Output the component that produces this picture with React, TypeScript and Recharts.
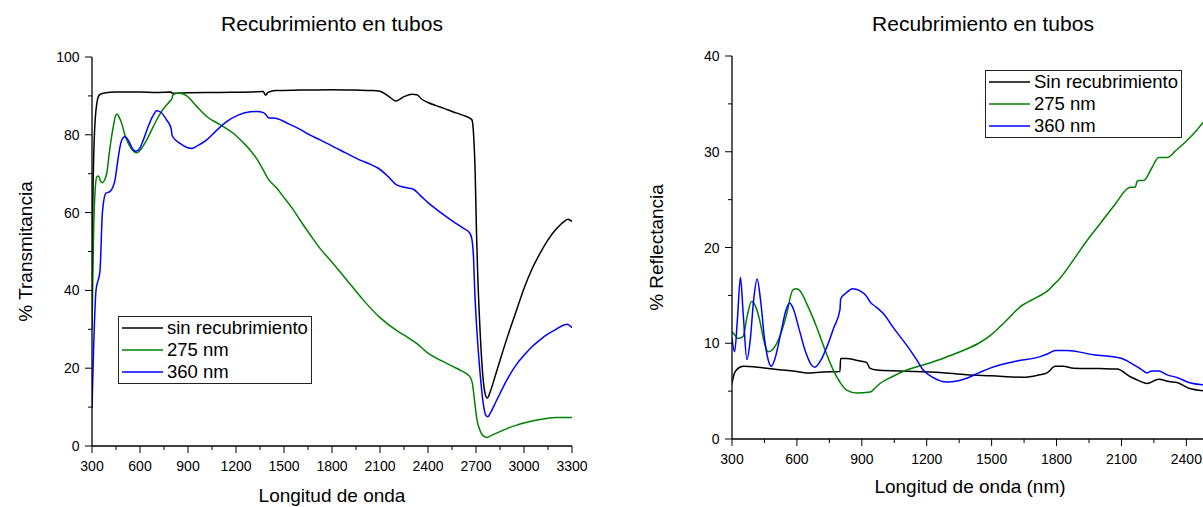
import React from "react";
import { LineChart, Line, XAxis, YAxis, Legend, Label } from "recharts";

// ---------- Transmittance (left panel) ----------
const transNmUncoated = [300, 305, 315, 330, 345, 370, 450, 600, 700, 795, 800, 900, 1100, 1300, 1370, 1385, 1400, 1450, 1600, 1800, 1950, 2050, 2100, 2150, 2200, 2250, 2300, 2330, 2360, 2400, 2450, 2500, 2550, 2620, 2660, 2675, 2685, 2695, 2703, 2710, 2725, 2745, 2760, 2771, 2785, 2820, 2850, 2900, 2950, 3000, 3050, 3100, 3150, 3200, 3250, 3275, 3290, 3300];
const transUncoated = [44, 62, 80, 88, 90.2, 90.7, 91.0, 91.0, 90.9, 91.0, 90.7, 90.8, 90.9, 91.0, 91.1, 90.2, 90.9, 91.4, 91.5, 91.6, 91.5, 91.4, 91.2, 90.0, 88.7, 89.8, 90.4, 90.3, 89.2, 88.3, 87.5, 86.8, 86.0, 85.0, 84.3, 83.8, 80, 70, 55, 45, 30, 17, 13, 12.3, 13.5, 18, 22, 28.5, 34.5, 40.5, 45.5, 49.5, 53, 55.7, 57.7, 58.3, 58.0, 57.7];

const transNm275 = [300, 310, 320, 330, 340, 355, 367, 380, 392, 410, 433, 448, 458, 470, 485, 505, 527, 555, 579, 610, 642, 670, 704, 735, 767, 795, 800, 805, 829, 860, 892, 950, 1017, 1100, 1183, 1240, 1288, 1330, 1371, 1402, 1450, 1496, 1550, 1600, 1660, 1725, 1788, 1892, 1996, 2100, 2214, 2270, 2329, 2402, 2480, 2558, 2610, 2640, 2665, 2678, 2690, 2705, 2725, 2745, 2767, 2800, 2850, 2900, 2950, 3000, 3100, 3200, 3300];
const trans275 = [30, 55, 66, 69.2, 69.4, 68.0, 67.7, 68.5, 70.1, 76, 82.1, 85.0, 85.3, 84.5, 83.0, 80, 77.8, 76, 75.4, 76.5, 78.7, 81, 83.8, 86, 87.7, 89.0, 89.3, 90.2, 90.7, 90.6, 90.0, 87.5, 84.7, 82.6, 80.4, 78.2, 76.1, 73.8, 70.9, 68.6, 66.5, 64.1, 61.2, 58.1, 54.5, 50.8, 47.8, 42.7, 37.5, 33.0, 29.4, 28.0, 26.4, 23.8, 22.0, 20.4, 19.3, 18.6, 17.6, 16, 12, 7, 4, 2.6, 2.2, 2.8, 3.7, 4.6, 5.3, 5.9, 6.8, 7.3, 7.3];

const transNm360 = [300, 310, 325, 350, 365, 387, 412, 430, 444, 460, 475, 490, 506, 520, 537, 555, 575, 598, 621, 650, 680, 704, 730, 767, 795, 800, 805, 850, 890, 923, 960, 1017, 1080, 1142, 1210, 1288, 1330, 1371, 1390, 1402, 1454, 1530, 1600, 1660, 1725, 1850, 1975, 2040, 2089, 2150, 2204, 2250, 2308, 2350, 2402, 2480, 2558, 2620, 2662, 2675, 2685, 2692, 2705, 2725, 2745, 2760, 2773, 2790, 2820, 2850, 2900, 2950, 3000, 3050, 3100, 3150, 3200, 3250, 3270, 3290, 3300];
const trans360 = [9.8, 25, 40, 45, 60, 65.0, 65.4, 66.5, 68.4, 73, 76.9, 79, 79.5, 79, 77.8, 76.3, 75.8, 76.5, 78.7, 82, 84.8, 86.2, 85.8, 83.8, 81.5, 80, 79.5, 77.8, 76.8, 76.5, 77.2, 78.7, 81.2, 83.4, 85.0, 85.9, 86.0, 85.7, 85.0, 84.4, 84.2, 82.8, 81.4, 80.0, 78.7, 76.1, 73.5, 72.4, 71.4, 69.3, 67.1, 66.5, 66.0, 64.5, 62.5, 60.0, 57.7, 56.0, 54.7, 53, 48, 40, 30, 19, 11, 8, 7.5, 8.5, 11, 13.5, 17.5, 20.8, 23.3, 25.5, 27.3, 28.8, 30.0, 31.1, 31.3, 30.8, 30.4];

const transXMajor = [300, 600, 900, 1200, 1500, 1800, 2100, 2400, 2700, 3000, 3300];
const transXMinor = [450, 750, 1050, 1350, 1650, 1950, 2250, 2550, 2850, 3150];
const transYMajor = [0, 20, 40, 60, 80, 100];
const transYMinor = [10, 30, 50, 70, 90];

// ---------- Reflectance (right panel) ----------
const reflNmUncoated = [300, 310, 320, 351, 420, 490, 582, 644, 720, 799, 802, 830, 880, 922, 937, 968, 1076, 1262, 1385, 1500, 1647, 1720, 1756, 1794, 1830, 1879, 2000, 2080, 2141, 2180, 2218, 2272, 2320, 2357, 2411, 2500];
const reflUncoated = [5.8, 6.8, 7.2, 7.6, 7.5, 7.3, 7.1, 6.9, 7.0, 7.05, 8.4, 8.4, 8.2, 8.0, 7.4, 7.2, 7.1, 6.95, 6.7, 6.6, 6.45, 6.7, 6.9, 7.6, 7.6, 7.4, 7.35, 7.3, 6.5, 6.1, 5.8, 6.25, 6.0, 5.9, 5.3, 5.0];

const reflNm275 = [300, 315, 328, 351, 370, 390, 410, 428, 448, 467, 490, 521, 550, 582, 600, 613, 650, 691, 730, 768, 800, 830, 876, 938, 960, 984, 1040, 1107, 1200, 1262, 1330, 1385, 1440, 1493, 1560, 1632, 1717, 1760, 1786, 1809, 1887, 1940, 2002, 2070, 2141, 2164, 2172, 2180, 2203, 2240, 2272, 2311, 2350, 2404, 2450, 2479, 2500];
const refl275 = [11.2, 10.8, 10.5, 10.7, 12.8, 14.35, 13.8, 12.4, 10.2, 9.1, 9.4, 10.7, 12.8, 15.6, 15.7, 15.5, 13.9, 11.7, 9.3, 7.2, 5.9, 5.1, 4.8, 4.9, 5.3, 5.8, 6.5, 7.2, 7.85, 8.3, 8.9, 9.4, 10.0, 10.8, 12.2, 13.8, 14.9, 15.5, 16.1, 16.6, 19.0, 20.7, 22.5, 24.5, 26.3, 26.3, 26.9, 27.0, 27.0, 28.3, 29.4, 29.4, 30.1, 31.2, 32.3, 33.1, 33.6];

const reflNm360 = [300, 312, 325, 339, 352, 369, 385, 400, 416, 432, 450, 468, 482, 500, 525, 550, 567, 585, 610, 640, 665, 683, 710, 740, 770, 799, 802, 830, 857, 890, 922, 937, 965, 999, 1050, 1107, 1150, 1184, 1230, 1293, 1340, 1385, 1440, 1493, 1550, 1617, 1725, 1760, 1794, 1848, 1971, 2095, 2157, 2190, 2218, 2240, 2272, 2311, 2360, 2411, 2479, 2500];
const refl360 = [10.5, 9.1, 12.5, 16.9, 13, 8.3, 10.5, 14.5, 16.7, 14.5, 10.5, 8.2, 7.6, 8.5, 11, 13.5, 14.2, 13.5, 11.5, 9.1, 7.8, 7.5, 8.2, 9.7, 11.6, 13.5, 14.6, 15.3, 15.7, 15.5, 14.9, 14.35, 13.8, 13.1, 11.5, 9.8, 8.4, 7.2, 6.4, 5.95, 6.05, 6.35, 6.9, 7.4, 7.8, 8.15, 8.6, 8.9, 9.25, 9.25, 8.8, 8.45, 7.75, 7.3, 6.9, 7.1, 7.1, 6.7, 6.4, 5.9, 5.65, 5.6];

const reflXMajor = [300, 600, 900, 1200, 1500, 1800, 2100, 2400];
const reflXMinor = [450, 750, 1050, 1350, 1650, 1950, 2250];
const reflYMajor = [0, 10, 20, 30, 40];
const reflYMinor = [5, 15, 25, 35];

const FONT = "'Liberation Sans', Arial, Helvetica, sans-serif";
const COLORS = { uncoated: "#000000", c275: "#008000", c360: "#0000ff" };

type Pt = { x: number; y: number };
const zip = (xs: number[], ys: number[]): Pt[] => xs.map((x, i) => ({ x, y: ys[i] }));

// Axis tick renderers: tickSize/tickMargin are 0, so (x, y) is the point on the axis line.
const makeTick = (side: "bottom" | "left" | "top" | "right", majors: number[], showLabel: boolean) =>
  (props: any) => {
    const { x, y, payload } = props;
    const v = payload.value;
    const isMajor = majors.includes(v);
    const outLen = isMajor ? 7 : 4;
    const inLen = isMajor ? 3 : 2;
    if (side === "bottom") {
      return (
        <g>
          <line x1={x} x2={x} y1={y} y2={y + outLen} stroke="#000" strokeWidth={1} />
          {showLabel && isMajor && (
            <text x={x} y={y + 15} dy="0.71em" textAnchor="middle" fontSize={14} fontFamily={FONT} fill="#000">{v}</text>
          )}
        </g>
      );
    }
    if (side === "left") {
      return (
        <g>
          <line x1={x - outLen} x2={x} y1={y} y2={y} stroke="#000" strokeWidth={1} />
          {showLabel && isMajor && (
            <text x={x - 12.5} y={y} dy="0.36em" textAnchor="end" fontSize={14} fontFamily={FONT} fill="#000">{v}</text>
          )}
        </g>
      );
    }
    if (side === "top") {
      return <line x1={x} x2={x} y1={y} y2={y + inLen} stroke="#000" strokeWidth={1} />;
    }
    return <line x1={x - inLen} x2={x} y1={y} y2={y} stroke="#000" strokeWidth={1} />;
  };

// Legend box listing the series in the order they were declared.
const LegendBox = ({ payload, order }: any) => {
  const items = [...(payload || [])].sort(
    (a: any, b: any) => order.indexOf(a.value) - order.indexOf(b.value)
  );
  return (
    <div
      style={{
        border: "1px solid #222",
        background: "#fff",
        padding: "0 3px 0 3px",
        fontFamily: FONT,
        fontSize: 18.5,
        lineHeight: "22px",
        whiteSpace: "nowrap",
        color: "#000",
      }}
    >
      {items.map((p: any) => (
        <div key={p.value} style={{ display: "flex", alignItems: "center", height: 22 }}>
          <svg width={41} height={22} style={{ marginRight: 4 }}>
            <line x1={0} x2={41} y1={11} y2={11} stroke={p.color} strokeWidth={1.6} />
          </svg>
          <span>{p.value}</span>
        </div>
      ))}
    </div>
  );
};

type Series = { name: string; color: string; data: Pt[] };

type PanelProps = {
  left: number;
  width: number;
  margin: { top: number; right: number; bottom: number; left: number };
  xDomain: [number, number];
  yDomain: [number, number];
  xMajor: number[];
  xMinor: number[];
  yMajor: number[];
  yMinor: number[];
  xTitle: string;
  yTitle: string;
  yTitleOffset: number;
  xTitleOffset: number;
  legendPos: { left: number; top: number };
  series: Series[];
};

const Panel = (p: PanelProps) => {
  const xTicks = [...p.xMajor, ...p.xMinor].sort((a, b) => a - b);
  const yTicks = [...p.yMajor, ...p.yMinor].sort((a, b) => a - b);
  const order = p.series.map((s) => s.name);
  return (
    <div style={{ position: "absolute", left: p.left, top: 0 }}>
      <LineChart width={p.width} height={507} margin={p.margin}>
        <XAxis
          xAxisId="b"
          type="number"
          dataKey="x"
          domain={p.xDomain}
          ticks={xTicks}
          interval={0}
          allowDataOverflow
          height={60}
          tickSize={0}
          tickMargin={0}
          tickLine={false}
          axisLine={{ stroke: "#000", strokeWidth: 1.3 }}
          tick={makeTick("bottom", p.xMajor, true)}
        >
          <Label value={p.xTitle} position="insideBottom" offset={p.xTitleOffset} style={{ fontFamily: FONT, fontSize: 19, fill: "#000" }} />
        </XAxis>
        <XAxis
          xAxisId="t"
          orientation="top"
          type="number"
          dataKey="x"
          domain={p.xDomain}
          ticks={xTicks}
          interval={0}
          allowDataOverflow
          height={0}
          tickSize={0}
          tickMargin={0}
          tickLine={false}
          axisLine={{ stroke: "#000", strokeWidth: 1.3 }}
          tick={makeTick("top", p.xMajor, false)}
        />
        <YAxis
          yAxisId="l"
          type="number"
          domain={p.yDomain}
          ticks={yTicks}
          interval={0}
          allowDataOverflow
          width={80}
          tickSize={0}
          tickMargin={0}
          tickLine={false}
          axisLine={{ stroke: "#000", strokeWidth: 1.3 }}
          tick={makeTick("left", p.yMajor, true)}
        >
          <Label
            value={p.yTitle}
            angle={-90}
            position="insideLeft"
            offset={p.yTitleOffset}
            style={{ fontFamily: FONT, fontSize: 19, fill: "#000", textAnchor: "middle" }}
          />
        </YAxis>
        <YAxis
          yAxisId="r"
          orientation="right"
          type="number"
          domain={p.yDomain}
          ticks={yTicks}
          interval={0}
          allowDataOverflow
          width={0}
          tickSize={0}
          tickMargin={0}
          tickLine={false}
          axisLine={{ stroke: "#000", strokeWidth: 1.3 }}
          tick={makeTick("right", p.yMajor, false)}
        />
        <Legend
          layout="horizontal"
          verticalAlign="middle"
          align="center"
          wrapperStyle={{ left: p.legendPos.left, top: p.legendPos.top, width: "auto" }}
          content={(props: any) => <LegendBox payload={props.payload} order={order} />}
        />
        {p.series.map((s) => (
          <Line
            key={s.name}
            xAxisId="b"
            yAxisId="l"
            data={s.data}
            dataKey="y"
            name={s.name}
            type="monotone"
            stroke={s.color}
            strokeWidth={1.5}
            dot={false}
            activeDot={false}
            isAnimationActive={false}
          />
        ))}
      </LineChart>
    </div>
  );
};

export default function App() {
  return (
    <div
      style={{
        position: "absolute",
        left: 0,
        top: 0,
        width: 1203,
        height: 507,
        overflow: "hidden",
        background: "#fff",
      }}
    >
      <Panel
        left={0}
        width={600}
        margin={{ top: 57, right: 28, bottom: 1, left: 12 }}
        xDomain={[300, 3300]}
        yDomain={[0, 100]}
        xMajor={transXMajor}
        xMinor={transXMinor}
        yMajor={transYMajor}
        yMinor={transYMinor}
        xTitle="Longitud de onda"
        yTitle="% Transmitancia"
        yTitleOffset={13}
        xTitleOffset={4}
        legendPos={{ left: 118, top: 316 }}
        series={[
          { name: "sin recubrimiento", color: COLORS.uncoated, data: zip(transNmUncoated, transUncoated) },
          { name: "275 nm", color: COLORS.c275, data: zip(transNm275, trans275) },
          { name: "360 nm", color: COLORS.c360, data: zip(transNm360, trans360) },
        ]}
      />
      <Panel
        left={620}
        width={620}
        margin={{ top: 56, right: 32, bottom: 8, left: 32 }}
        xDomain={[300, 2500]}
        yDomain={[0, 40]}
        xMajor={reflXMajor}
        xMinor={reflXMinor}
        yMajor={reflYMajor}
        yMinor={reflYMinor}
        xTitle="Longitud de onda (nm)"
        yTitle="% Reflectancia"
        yTitleOffset={4}
        xTitleOffset={6}
        legendPos={{ left: 365, top: 70 }}
        series={[
          { name: "Sin recubrimiento", color: COLORS.uncoated, data: zip(reflNmUncoated, reflUncoated) },
          { name: "275 nm", color: COLORS.c275, data: zip(reflNm275, refl275) },
          { name: "360 nm", color: COLORS.c360, data: zip(reflNm360, refl360) },
        ]}
      />
      <svg width={1203} height={507} style={{ position: "absolute", left: 0, top: 0, pointerEvents: "none" }}>
        <text x={332} y={31} textAnchor="middle" fontFamily={FONT} fontSize={21} fill="#000">Recubrimiento en tubos</text>
        <text x={983} y={31} textAnchor="middle" fontFamily={FONT} fontSize={21} fill="#000">Recubrimiento en tubos</text>
      </svg>
    </div>
  );
}
